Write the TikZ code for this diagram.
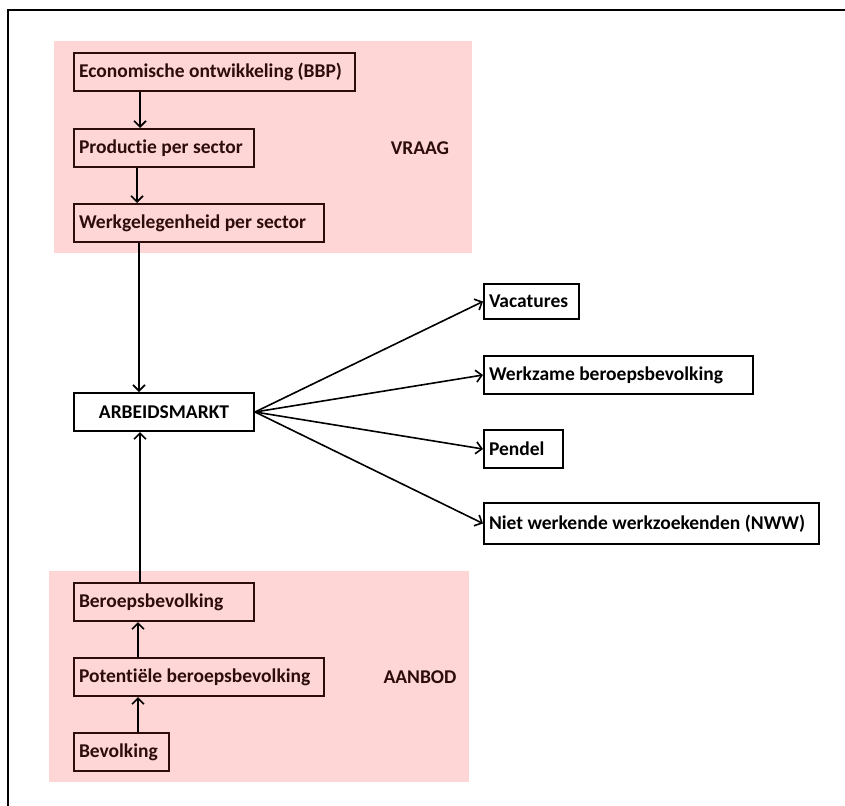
\documentclass[tikz,border=0pt]{standalone}
\usepackage{fontspec}
\setmainfont{Carlito}[Ligatures=NoCommon]
\usetikzlibrary{arrows.meta}
\definecolor{pinkbg}{RGB}{255,214,214}
\definecolor{dk}{RGB}{45,12,12}
\tikzset{
  box/.style={draw=dk, text=dk, line width=2pt, anchor=north west, inner sep=0pt, minimum height=38pt, font=\fontsize{19.5}{22}\selectfont\bfseries},
  wbox/.style={box, draw=black, text=black, fill=white},
  arr/.style={line width=1.6pt, -{Straight Barb[length=6pt,width=12pt]}},
  lbl/.style={text=dk, font=\fontsize{19.5}{22}\selectfont\bfseries}
}
\newcommand{\bx}[2]{\parbox[c]{#1pt}{\hspace*{5pt}#2}}
\begin{document}
\begin{tikzpicture}[x=1pt,y=-1pt]
\useasboundingbox (0,0) rectangle (845,805);
\begin{scope}
\clip (0,0) rectangle (845,805);
\draw[line width=2pt] (7.5,10.5) rectangle (900,900);
\end{scope}
% pink regions
\fill[pinkbg] (54,41) rectangle (472,253);
\fill[pinkbg] (49,571) rectangle (469,782);
% VRAAG boxes
\node[box, minimum width=281pt] (econ) at (73,52) {\bx{281}{Economische ontwikkeling (BBP)}};
\node[box, minimum width=180pt] (prod) at (73,128) {\bx{180}{Productie per sector}};
\node[box, minimum width=250pt] (werk) at (73,203) {\bx{250}{Werkgelegenheid per sector}};
\node[lbl] (vraag) at (420,148) {VRAAG};
% central
\node[wbox, minimum width=180pt, text width=180pt, align=center] (arb) at (73,392) {ARBEIDSMARKT};
% AANBOD boxes
\node[box, minimum width=180pt] (beroep) at (73,582) {\bx{180}{Beroepsbevolking}};
\node[box, minimum width=250pt] (pot) at (73,657) {\bx{250}{Potentiële beroepsbevolking}};
\node[box, minimum width=95pt] (bev) at (73,732) {\bx{95}{Bevolking}};
\node[lbl] (aanbod) at (420,677) {AANBOD};
% right boxes
\node[wbox, minimum width=95pt, minimum height=35pt] (vac) at (483,283) {\bx{95}{Vacatures}};
\node[wbox, minimum width=269pt] (wzb) at (483,355) {\bx{269}{Werkzame beroepsbevolking}};
\node[wbox, minimum width=79pt] (pen) at (483,429) {\bx{79}{Pendel}};
\node[wbox, minimum width=335pt, minimum height=41pt] (nww) at (483,502) {\bx{335}{Niet werkende werkzoekenden (NWW)}};
% x positions of vertical connectors
\coordinate (xa) at (140,0);
\coordinate (xb) at (137,0);
\coordinate (xc) at (139,0);
\coordinate (xd) at (140,0);
\coordinate (xe) at (138,0);
% vertical arrows
\draw[arr] (econ.south -| xa) -- (prod.north -| xa);
\draw[arr] (prod.south -| xb) -- (werk.north -| xb);
\draw[arr] (werk.south -| xc) -- (arb.north -| xc);
\draw[arr] (beroep.north -| xd) -- (arb.south -| xd);
\draw[arr] (pot.north -| xe) -- (beroep.south -| xe);
\draw[arr] (bev.north -| xe) -- (pot.south -| xe);
% fan-out arrows
\draw[arr] (arb.east) -- (vac.west);
\draw[arr] (arb.east) -- (wzb.west);
\draw[arr] (arb.east) -- (pen.west);
\draw[arr] (arb.east) -- (nww.west);
\end{tikzpicture}
\end{document}
